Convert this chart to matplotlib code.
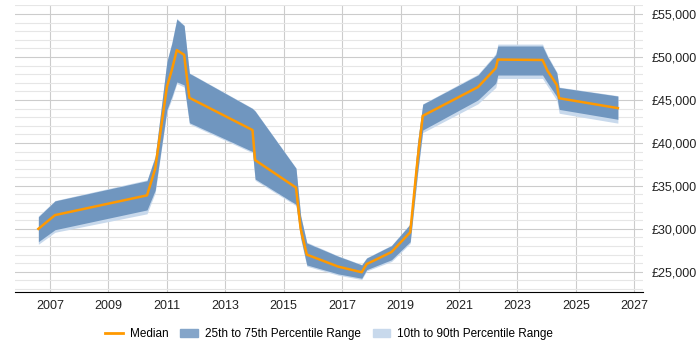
import matplotlib
matplotlib.use("Agg")
import matplotlib.pyplot as plt
from matplotlib.ticker import FuncFormatter, MultipleLocator
from matplotlib.patches import Patch
from matplotlib.lines import Line2D
import numpy as np

plt.rcParams['font.family'] = ['Liberation Sans', 'DejaVu Sans']

# time points (decimal years)
years = [2006.6, 2007.17, 2010.32, 2010.6, 2011.0, 2011.17, 2011.34, 2011.59, 2011.77,
         2013.93, 2014.02, 2015.42, 2015.58, 2015.79, 2016.87, 2017.67, 2017.84,
         2018.69, 2019.33, 2019.58, 2019.76, 2021.65, 2022.26, 2022.33, 2023.86,
         2024.03, 2024.35, 2024.43, 2026.44]

median = [30000, 31600, 33900, 37000, 46500, 48500, 50800, 50250, 45250,
          41500, 38000, 34800, 30000, 27000, 25600, 24950, 25900,
          27300, 29600, 38000, 43150, 46500, 48700, 49700, 49650,
          48400, 46750, 45200, 44050]

p75 = [31400, 33250, 35600, 38400, 49450, 51600, 54400, 53650, 48100,
       44000, 43700, 37050, 31500, 28350, 26800, 25800, 26600,
       28050, 30550, 40000, 44500, 47900, 50250, 51280, 51280,
       50050, 48150, 46450, 45450]

p25 = [28500, 29900, 32200, 34500, 43850, 45400, 47100, 46750, 42350,
       39000, 35800, 32850, 29000, 25800, 24750, 24250, 25250,
       26400, 28500, 36500, 41500, 45000, 46950, 47900, 47900,
       47000, 45400, 43900, 42750]

p90 = [31500, 33300, 35700, 38500, 49500, 51700, 54500, 53700, 48150,
       44050, 43750, 37100, 31550, 28450, 26850, 25850, 26650,
       28100, 30600, 40050, 44550, 48000, 50400, 51500, 51500,
       50200, 48250, 46500, 45500]

p10 = [28200, 29600, 31750, 34200, 43600, 45100, 46900, 46500, 42200,
       38850, 35650, 32700, 28800, 25650, 24600, 24100, 25100,
       26200, 28300, 36200, 41200, 44550, 46450, 47500, 47500,
       46600, 44950, 43450, 42300]

x_ticks = [2007, 2009, 2011, 2013, 2015, 2017, 2019, 2021, 2023, 2025, 2027]

fig = plt.figure(figsize=(7, 3.5), dpi=100, facecolor='w')
ax = fig.add_axes([15 / 700, 58 / 350, 628 / 700, 287 / 350])

ax.fill_between(years, p10, p90, color='#c8d9ec', linewidth=0, zorder=2)
ax.fill_between(years, p25, p75, color='#7096bf', linewidth=0, zorder=3)
ax.plot(years, median, '-', color='#ff9900', linewidth=1.8, zorder=4)

ax.set_xlim(2005.8, 2027.3)
ax.set_ylim(22650, 56050)
ax.set_xticks(x_ticks)
ax.yaxis.set_major_locator(MultipleLocator(5000))
ax.yaxis.set_minor_locator(MultipleLocator(1000))
ax.yaxis.tick_right()
ax.yaxis.set_major_formatter(FuncFormatter(lambda v, p: '£{:,.0f}'.format(v)))

ax.grid(True, which='major', color='#cccccc', linewidth=0.8, zorder=0)
ax.yaxis.grid(True, which='minor', color='#e6e6e6', linewidth=0.8, zorder=0)
ax.set_axisbelow(True)

for s in ['top', 'right', 'left']:
    ax.spines[s].set_visible(False)
ax.spines['bottom'].set_color('black')
ax.tick_params(axis='both', which='both', length=0, labelsize=9, colors='#222222')
ax.tick_params(axis='x', pad=6)
ax.tick_params(axis='y', pad=6)

handles = [Line2D([0], [0], color='#ff9900', linewidth=2),
           Patch(color='#84a5c9'),
           Patch(color='#c8d9ec')]
labels = ['Median', '25th to 75th Percentile Range', '10th to 90th Percentile Range']
fig.legend(handles, labels, loc='center', bbox_to_anchor=(0.47, 0.045), ncol=3,
           frameon=False, fontsize=8.5, handlelength=1.5, columnspacing=1.0,
           handletextpad=0.6)

fig.savefig('out.png', dpi=100)
